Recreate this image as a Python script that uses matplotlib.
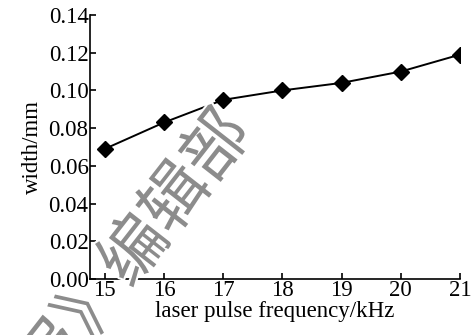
import matplotlib
matplotlib.use("Agg")
import matplotlib.pyplot as plt
import matplotlib.patheffects as pe

freq = [15, 16, 17, 18, 19, 20, 21]
width = [0.069, 0.083, 0.095, 0.100, 0.104, 0.110, 0.119]
yticks = [0.00, 0.02, 0.04, 0.06, 0.08, 0.10, 0.12, 0.14]
ytick_labels = ["0.00", "0.02", "0.04", "0.06", "0.08", "0.10", "0.12", "0.14"]

plt.rcParams['font.family'] = ['Liberation Serif', 'DejaVu Serif']

fig = plt.figure(figsize=(4.76, 3.35), dpi=100)
ax = fig.add_axes([90/476, 1-279/335, (460-90)/476, (279-15)/335])
ax.plot(freq, width, color='black', lw=1.4, marker='D', ms=8, mfc='black', mec='black')
ax.set_xlim(14.75, 21.0)
ax.set_ylim(0, 0.14)
ax.set_xticks(freq)
ax.set_yticks(yticks)
ax.set_yticklabels(ytick_labels)
for s in ['top', 'right']:
    ax.spines[s].set_visible(False)
for s in ['left', 'bottom']:
    ax.spines[s].set_linewidth(1.2)
ax.tick_params(direction='in', length=4, width=1.2, labelsize=16.5, pad=1)
ax.set_xlabel("laser pulse frequency/kHz", fontsize=16.5, labelpad=0)
ax.set_ylabel("width/mm", fontsize=16.5, labelpad=4)

fig.text(136/476, 1-252/335, "报》编辑部", fontsize=48, color='#8c8c8c', rotation=52,
         rotation_mode='anchor', ha='center', va='center', zorder=10,
         family=['Noto Sans CJK SC', 'DejaVu Sans'],
         path_effects=[pe.withStroke(linewidth=3, foreground='white')])

fig.savefig("out.png", dpi=100)
